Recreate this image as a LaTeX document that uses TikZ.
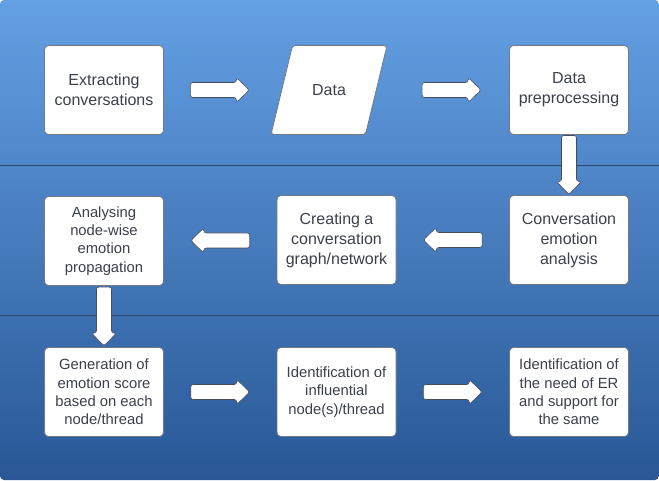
\documentclass[tikz,border=0pt]{standalone}
\usepackage{fontspec}
\setmainfont{Liberation Sans}
\usetikzlibrary{calc}
\definecolor{bgtop}{RGB}{100,160,228}
\definecolor{bgmid}{RGB}{55,122,208}
\definecolor{bgbot}{RGB}{41,87,150}
\definecolor{txt}{RGB}{60,64,76}
\definecolor{edgec}{RGB}{115,120,130}
\definecolor{sepc}{RGB}{45,72,112}
\definecolor{arrc}{RGB}{70,75,88}
\tikzset{
  boxline/.style={draw=edgec, line width=0.8pt, fill=white},
  boxtext/.style={align=center, text=txt, inner sep=2pt, font=\fontsize{16}{20}\selectfont},
  box/.style={boxline, boxtext, rounded corners=4pt,
    minimum width=119pt, minimum height=89pt},
  smalltext/.style={font=\fontsize{14.8}{18.3}\selectfont},
  arrbody/.style={draw=arrc, line width=0.6pt, fill=white, rounded corners=2.5pt},
  pics/barrow/.style={code={
    \draw[arrbody] (-29.5,-7.5) -- (16.5,-7.5) -- (16.5,-12.5) -- (29.5,0)
      -- (16.5,12.5) -- (16.5,7.5) -- (-29.5,7.5) -- cycle;}},
  seprule/.style={draw=sepc, line width=0.9pt}
}
\begin{document}
\begin{tikzpicture}[x=1pt,y=1pt]
\useasboundingbox (0,0) rectangle (659,480);
\shade[top color=bgtop, middle color=bgmid, bottom color=bgbot, rounded corners=4pt] (0,0) rectangle (659,480);
\draw[seprule] (0,315) -- (659,315);
\draw[seprule] (0,165) -- (659,165);

\node[box] (b1) at (104,390) {Extracting\\conversations};
% Data parallelogram
\path node[minimum width=116pt, minimum height=89pt, inner sep=0pt, outer sep=0pt] (b2) at (329,390) {};
\draw[boxline, rounded corners=3pt] (b2.south west) -- ($(b2.north west)+(21.5,0)$)
  -- (b2.north east) -- ($(b2.south east)+(-21.5,0)$) -- cycle;
\node[boxtext] (b2t) at (b2.center) {Data};
\node[box] (b3) at (569,390) {Data\\preprocessing};
\node[box] (b4) at (569,240) {Conversation\\emotion\\analysis};
\node[box] (b5) at (336.5,240) {Creating a\\conversation\\graph/network};
\node[box, smalltext] (b6) at (104,239) {Analysing\\node-wise\\emotion\\propagation};
\node[box, smalltext] (b7) at (104,88) {Generation of\\emotion score\\based on each\\node/thread};
\node[box, smalltext] (b8) at (336.5,88) {Identification of\\influential\\node(s)/thread};
\node[box, smalltext] (b9) at (569,88) {Identification of\\the need of ER\\and support for\\the same};

\pic at ($(b1.east)+(56,0)$) {barrow};
\pic at ($(b3.west)+(-57.5,0)$) {barrow};
\pic[rotate=-90] at ($(b3.south)!0.5!(b4.north)$) {barrow};
\pic[rotate=180] at ($(b4.west)!0.5!(b5.east)$) {barrow};
\pic[rotate=180] at ($(b5.west)!0.5!(b6.east)$) {barrow};
\pic[rotate=-90] at ($(b6.south)!0.5!(b7.north)$) {barrow};
\pic at ($(b7.east)!0.5!(b8.west)$) {barrow};
\pic at ($(b8.east)!0.5!(b9.west)$) {barrow};
\end{tikzpicture}
\end{document}
